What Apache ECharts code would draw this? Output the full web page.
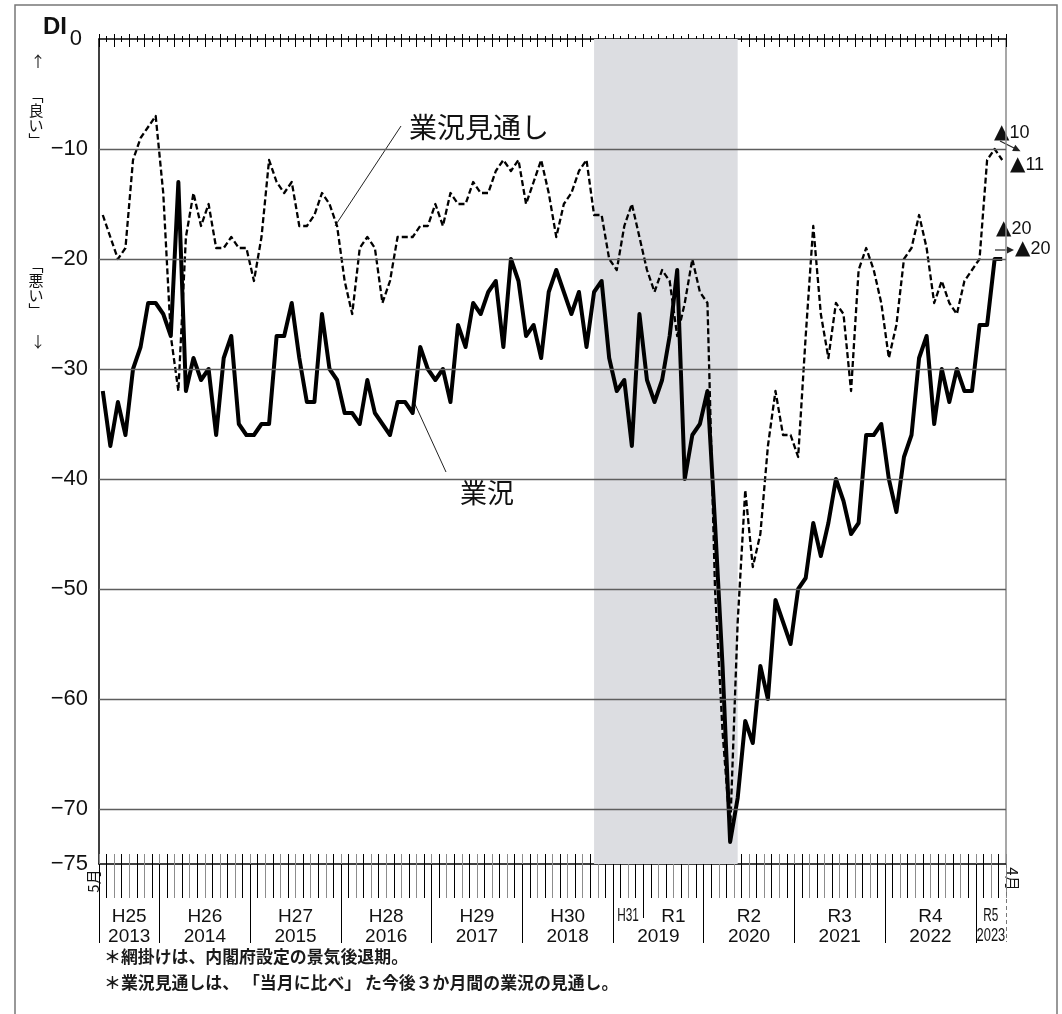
<!DOCTYPE html>
<html><head><meta charset="utf-8">
<script src="https://cdn.jsdelivr.net/npm/echarts@6/dist/echarts.min.js"></script>
<style>html,body{margin:0;padding:0;background:#fff}#c{width:1062px;height:1014px}</style>
</head><body><div id="c"></div>
<script>
// ---- data ----
const startYear = 2013, startMonth = 5; // first month: May 2013
const gyokyo = [ // 業況
  -32,-37,-33,-36,-30,-28,-24,-24,-25,-27,-13,-32,
  -29,-31,-30,-36,-29,-27,-35,-36,-36,-35,-35,-27,
  -27,-24,-29,-33,-33,-25,-30,-31,-34,-34,-35,-31,
  -34,-35,-36,-33,-33,-34,-28,-30,-31,-30,-33,-26,
  -28,-24,-25,-23,-22,-28,-20,-22,-27,-26,-29,-23,
  -21,-23,-25,-23,-28,-23,-22,-29,-32,-31,-37,-25,
  -31,-33,-31,-27,-21,-40,-36,-35,-32,-44,-57,-73,
  -69,-62,-64,-57,-60,-51,-53,-55,-50,-49,-44,-47,
  -44,-40,-42,-45,-44,-36,-36,-35,-40,-43,-38,-36,
  -29,-27,-35,-30,-33,-30,-32,-32,-26,-26,-20,-20
];
const mitoshi = [ // 業況見通し
  -16,-18,-20,-19,-11,-9,-8,-7,-14,-27,-32,-18,
  -14,-17,-15,-19,-19,-18,-19,-19,-22,-18,-11,-13,
  -14,-13,-17,-17,-16,-14,-15,-17,-22,-25,-19,-18,
  -19,-24,-22,-18,-18,-18,-17,-17,-15,-17,-14,-15,
  -15,-13,-14,-14,-12,-11,-12,-11,-15,-13,-11,-14,
  -18,-15,-14,-12,-11,-16,-16,-20,-21,-17,-15,-18,
  -21,-23,-21,-22,-27,-24,-20,-23,-24,-50,-63,-72,
  -53,-41,-48,-45,-37,-32,-36,-36,-38,-27,-17,-25,
  -29,-24,-25,-32,-21,-19,-21,-24,-29,-26,-20,-19,
  -16,-19,-24,-22,-24,-25,-22,-21,-20,-11,-10,-11
];
const seriesNames = ['業況', '業況見通し'];
const yTickValues = [0, -10, -20, -30, -40, -50, -60, -70, -75];
const yGridValues = [-10, -20, -30, -40, -50, -60, -70];
const recession = ['2018-10', '2020-05'];
const edgeMonthLabels = ['5月', '4月'];
const notes = ['＊網掛けは、内閣府設定の景気後退期。', '＊業況見通しは、 「当月に比べ」 た今後３か月間の業況の見通し。'];

// ---- derived categories / tick labels ----
const months = [];
for (let i = 0; i < gyokyo.length; i++) {
  const t = (startMonth - 1) + i;
  const y = startYear + Math.floor(t / 12), m = t % 12 + 1;
  months.push(y + '-' + String(m).padStart(2, '0'));
}
function eraOf(ym) {
  const y = +ym.slice(0, 4), m = +ym.slice(5);
  if (y < 2019 || (y === 2019 && m < 5)) return 'H' + (y - 1988);
  return 'R' + (y - 2018);
}
function spans(keyFn) {
  const out = [];
  months.forEach((ym, i) => {
    const k = keyFn(ym);
    if (!out.length || out[out.length - 1].label !== k) out.push({label: k, start: i, end: i + 1});
    else out[out.length - 1].end = i + 1;
  });
  out.forEach(s => s.pos = (s.start + s.end) / 2);
  return out;
}
const eraSpans = spans(eraOf);
const yearSpans = spans(ym => ym.slice(0, 4));
const yearBounds = yearSpans.map(s => s.start);
const eraInner = eraSpans.map(s => s.start).filter(v => !yearBounds.includes(v));
const N = months.length;
const isNarrow = s => (s.end - s.start) <= 4;

const FONT = "'Liberation Sans', 'Noto Sans CJK JP', sans-serif";
const JFONT = "'Noto Sans CJK JP', sans-serif";
const minus = v => v < 0 ? '\u2212' + (-v) : String(v);

function baseX(extra) {
  return Object.assign({
    type: 'value', gridIndex: 0, min: 0, max: N,
    axisLine: {show: false, onZero: false}, axisTick: {show: false}, axisLabel: {show: false},
    splitLine: {show: false}, minorTick: {show: false}, minorSplitLine: {show: false}
  }, extra);
}
const wideEra = eraSpans.filter(s => !isNarrow(s));
const wideYear = yearSpans.filter(s => !isNarrow(s));
const blackLine = {show: true, onZero: false, lineStyle: {color: '#000', width: 1.5}};

const chart = echarts.init(document.getElementById('c'), null, {renderer: 'canvas', width: 1062, height: 1014});
const option = {
  animation: false,
  backgroundColor: '#fff',
  textStyle: {fontFamily: FONT},
  grid: {left: 99, right: 56, top: 39, bottom: 150, containLabel: false, outerBoundsMode: 'none'},
  xAxis: [
    baseX({position: 'bottom', axisLine: blackLine, interval: 2,
      axisTick: {show: true, length: 34, lineStyle: {color: '#8c8c8c', width: 1}},
      minorTick: {show: true, splitNumber: 2, length: 34, lineStyle: {color: '#000', width: 1}}}),
    baseX({position: 'bottom', interval: 2,
      axisTick: {show: true, inside: true, length: 10, lineStyle: {color: '#8c8c8c', width: 1}},
      minorTick: {show: true, splitNumber: 2, length: 10, lineStyle: {color: '#000', width: 1}}}),
    baseX({position: 'top', axisLine: blackLine, interval: 2,
      axisTick: {show: true, length: 5, lineStyle: {color: '#000', width: 1}},
      minorTick: {show: true, splitNumber: 2, length: 3, lineStyle: {color: '#000', width: 1}}}),
    baseX({position: 'top', interval: 2,
      axisTick: {show: true, inside: true, length: 8, lineStyle: {color: '#000', width: 1}},
      minorTick: {show: true, splitNumber: 2, length: 3, lineStyle: {color: '#000', width: 1}}}),
    baseX({position: 'bottom', axisTick: {show: true, length: 79, customValues: yearBounds, lineStyle: {color: '#000', width: 1}}}),
    baseX({position: 'bottom', axisTick: {show: true, length: 54, customValues: eraInner, lineStyle: {color: '#000', width: 1}}}),
    baseX({position: 'bottom', axisTick: {show: true, length: 78, customValues: [N], lineStyle: {color: '#777', width: 1, type: [4, 3]}}}),
    baseX({position: 'bottom', axisLabel: {show: true, customValues: wideEra.map(s => s.pos), margin: 43, fontSize: 19, color: '#111', fontFamily: FONT,
      formatter: v => { const s = wideEra.find(e => e.pos === v); return s ? s.label : ''; }}}),
    baseX({position: 'bottom', axisLabel: {show: true, customValues: wideYear.map(s => s.pos), margin: 63, fontSize: 19, color: '#111', fontFamily: FONT,
      formatter: v => { const s = wideYear.find(e => e.pos === v); return s ? s.label : ''; }}})
  ],
  yAxis: [
    {type: 'value', min: -75, max: 0, position: 'left',
      axisLine: blackLine, axisTick: {show: false}, splitLine: {show: false},
      axisLabel: {customValues: yTickValues, margin: 11, fontSize: 22, color: '#111', fontFamily: FONT,
        formatter: v => v === 0 ? '{z|0}' : minus(v),
        rich: {z: {fontSize: 22, color: '#111', fontFamily: FONT, padding: [0, 6, 0, 0]}}}},
    {type: 'value', min: -75, max: 0, position: 'right',
      axisLine: {show: true, onZero: false, lineStyle: {color: '#8a8a8a', width: 1.5}}, axisTick: {show: false}, splitLine: {show: false}, axisLabel: {show: false}}
  ],
  series: [
    {type: 'line', name: 'shade', data: [], z: 1, silent: true,
      markArea: {silent: true, itemStyle: {color: '#dcdde1'},
        data: [[{xAxis: months.indexOf(recession[0]) + 0.5}, {xAxis: months.indexOf(recession[1]) + 0.5}]]}},
    {type: 'line', name: 'grid', data: [], z: 2, silent: true,
      markLine: {silent: true, symbol: 'none', label: {show: false}, lineStyle: {color: '#5e5e5e', width: 1.3, type: 'solid'},
        data: yGridValues.map(v => ({yAxis: v}))}},
    {type: 'line', name: seriesNames[1], z: 3, symbol: 'none', silent: true,
      data: mitoshi.map((v, i) => [i + 0.5, v]),
      lineStyle: {color: '#000', width: 2.3, type: [6, 3], join: 'round'}},
    {type: 'line', name: seriesNames[0], z: 4, symbol: 'none', silent: true,
      data: gyokyo.map((v, i) => [i + 0.5, v]),
      lineStyle: {color: '#000', width: 4, join: 'round'}}
  ]
};
chart.setOption(option);

// ---- annotations ----
const xp = v => chart.convertToPixel({xAxisIndex: 7}, v);
const g = [];
g.push({type: 'rect', shape: {x: 15, y: 5, width: 1042, height: 1040}, style: {fill: 'none', stroke: '#777', lineWidth: 1.5}, z: 0, silent: true});
g.push({type: 'text', x: 43, y: 27, style: {text: 'DI', font: "bold 24px 'Liberation Sans'", fill: '#111', textVerticalAlign: 'middle'}});
g.push({type: 'text', x: 38, y: 61, style: {text: '↑', font: "15px " + JFONT, fill: '#111', textAlign: 'center', textVerticalAlign: 'middle'}});
// vertical (tategaki) labels, one character per line
const vText = (x, y, s) => ({type: 'text', x, y, style: {text: s.split('').join('\n'), font: "15px " + JFONT, lineHeight: 15, fill: '#111', textAlign: 'center', textVerticalAlign: 'top'}});
g.push(vText(36, 88, '﹁良い﹂'));
g.push(vText(36, 258, '﹁悪い﹂'));
g.push({type: 'text', x: 38, y: 341, style: {text: '↓', font: "15px " + JFONT, fill: '#111', textAlign: 'center', textVerticalAlign: 'middle'}});
// series labels + leaders
g.push({type: 'text', x: 409, y: 127, style: {text: seriesNames[1], font: "28px " + JFONT, fill: '#111', textVerticalAlign: 'middle'}});
g.push({type: 'line', shape: {x1: 401, y1: 126, x2: 335, y2: 226}, style: {stroke: '#222', lineWidth: 1}});
g.push({type: 'text', x: 460, y: 493, style: {text: seriesNames[0], font: "27px " + JFONT, fill: '#111', textVerticalAlign: 'middle'}});
g.push({type: 'line', shape: {x1: 414, y1: 402, x2: 446, y2: 472}, style: {stroke: '#222', lineWidth: 1}});
// right-side end values
const last = N - 1;
const tri = v => '{t|▲}{n|' + (-v) + '}';
const triRich = {t: {font: "20px 'DejaVu Sans'", fill: '#111'}, n: {font: "18px 'Liberation Sans'", fill: '#111'}};
const annot = (x, y, v) => ({type: 'text', x, y, style: {text: tri(v), rich: triRich, textVerticalAlign: 'middle'}});
g.push(annot(994, 133, mitoshi[last - 1]));
g.push(annot(1010, 165, mitoshi[last]));
g.push(annot(996, 229, gyokyo[last - 1]));
g.push(annot(1015, 249, gyokyo[last]));
g.push({type: 'line', shape: {x1: 1000, y1: 141, x2: 1019, y2: 150.5}, style: {stroke: '#222', lineWidth: 1.2}});
g.push({type: 'polygon', shape: {points: [[1020.5, 151.2], [1012.1, 151.0], [1015.3, 144.8]]}, style: {fill: '#222'}});
g.push({type: 'line', shape: {x1: 995, y1: 250, x2: 1012, y2: 250}, style: {stroke: '#222', lineWidth: 1.2}});
g.push({type: 'polygon', shape: {points: [[1014, 250], [1007, 246.5], [1007, 253.5]]}, style: {fill: '#222'}});
// edge month labels
g.push({type: 'text', x: 93, y: 881, rotation: Math.PI / 2, style: {text: edgeMonthLabels[0], font: "15px " + JFONT, fill: '#111', textAlign: 'center', textVerticalAlign: 'middle'}});
g.push({type: 'text', x: 1013, y: 879, rotation: -Math.PI / 2, style: {text: edgeMonthLabels[1], font: "15px " + JFONT, fill: '#111', textAlign: 'center', textVerticalAlign: 'middle'}});
// condensed era / year labels for short spans
eraSpans.filter(isNarrow).forEach(s => {
  g.push({type: 'text', x: xp(s.pos), y: 916, scaleX: 0.62, style: {text: s.label, font: "19px 'Liberation Sans'", fill: '#111', textAlign: 'center', textVerticalAlign: 'middle'}});
});
yearSpans.filter(isNarrow).forEach(s => {
  g.push({type: 'text', x: xp(s.pos), y: 936, scaleX: 0.68, style: {text: s.label, font: "19px 'Liberation Sans'", fill: '#111', textAlign: 'center', textVerticalAlign: 'middle'}});
});
// footnotes
g.push({type: 'text', x: 104, y: 957, style: {text: notes[0], font: "bold 16.9px " + JFONT, fill: '#1a1a1a', textVerticalAlign: 'middle'}});
g.push({type: 'text', x: 104, y: 983, style: {text: notes[1], font: "bold 16.9px " + JFONT, fill: '#1a1a1a', textVerticalAlign: 'middle'}});
chart.setOption({graphic: {elements: g}});
</script></body></html>
